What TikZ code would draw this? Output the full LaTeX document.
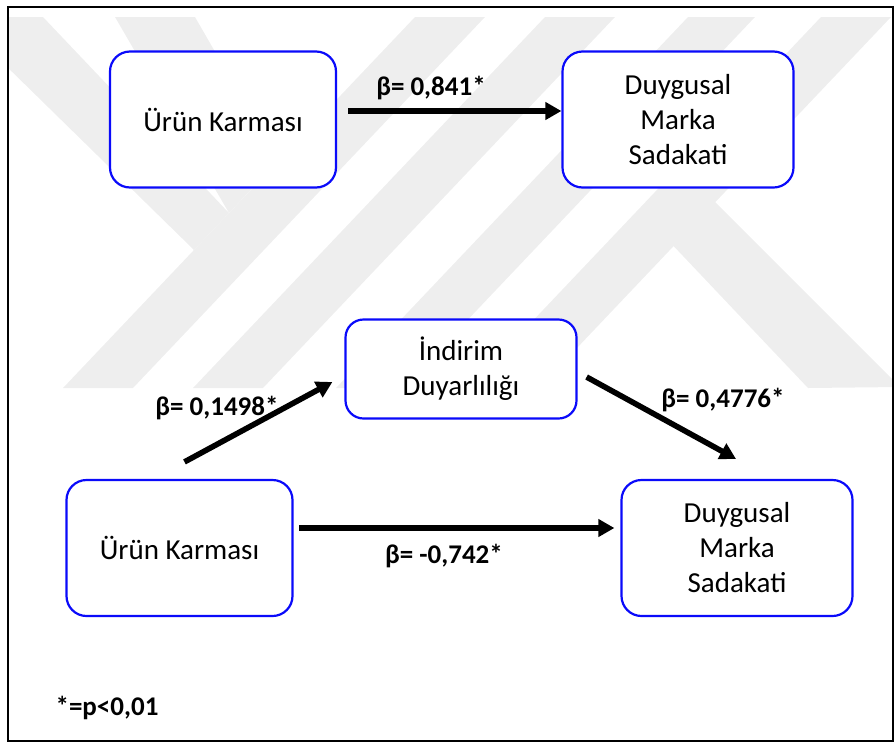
\documentclass[tikz,border=0pt]{standalone}
\usepackage{fontspec}
\setmainfont{Carlito}
\usetikzlibrary{arrows.meta}
\definecolor{boxblue}{RGB}{10,10,250}
\definecolor{wmgray}{RGB}{238,238,238}

\begin{document}
\begin{tikzpicture}[x=1pt,y=-1pt,
  mbox/.style={draw=boxblue, line width=2.2pt, rounded corners=20pt, fill=white,
    inner sep=0pt, align=center, font=\fontsize{29}{35}\selectfont},
  bigbox/.style={mbox, minimum width=226pt, minimum height=136pt},
  midbox/.style={mbox, minimum width=231pt, minimum height=99pt, rounded corners=18pt},
  arr/.style={line width=5.6pt, -{Triangle[length=16pt,width=17pt]}},
  coef/.style={font=\bfseries\fontsize{27}{32}\selectfont, anchor=base, inner sep=0pt}]

\path[use as bounding box] (0,0) rectangle (896,745);

% faint background emblem made of diagonal bands
\begin{scope}
  \clip (9,17) rectangle (892,388);
  \fill[wmgray] (415,17) -- (485,17) -- (133,388) -- (63,388) -- cycle;
  \fill[wmgray] (545,17) -- (615,17) -- (263,388) -- (193,388) -- cycle;
  \fill[wmgray] (688,17) -- (755,17) -- (403,388) -- (336,388) -- cycle;
  \fill[wmgray] (821,17) -- (891,17) -- (539,388) -- (469,388) -- cycle;
  \fill[wmgray] (0,17) -- (43,17) -- (229,213) -- (194,250) -- (0,60) -- cycle;
  \fill[wmgray] (115,17) -- (195,17) -- (278,161) -- (229,213) -- cycle;
  \fill[wmgray] (708,195) -- (900,387) -- (808,388) -- (665,237) -- cycle;
\end{scope}

% outer frame
\draw[line width=1.8pt] (8,7) rectangle (893,741);

% upper model: direct effect
\node[bigbox] (uk1)  at (223,119.5) {Ürün Karması};
\node[bigbox, minimum width=231pt] (dms1) at (678,119.5) {Duygusal\\Marka\\Sadakati};

% lower model: mediation
\node[midbox] (ind)  at (461,369) {İndirim\\Duyarlılığı};
\node[bigbox] (uk2)  at (179.5,548) {Ürün Karması};
\node[bigbox, minimum width=231pt] (dms2) at (737,548) {Duygusal\\Marka\\Sadakati};

\draw[arr] ([xshift=11pt,yshift=8.5pt]uk1.east) -- ([yshift=8.5pt]dms1.west);
\draw[arr] ([xshift=5pt,yshift=17pt]uk2.north) -- ([xshift=-12pt,yshift=-13pt]ind.west);
\draw[arr] ([xshift=9pt,yshift=-8pt]ind.east) -- ([xshift=-1pt,yshift=20pt]dms2.north);
\draw[arr] ([xshift=5.5pt,yshift=20pt]uk2.east) -- ([xshift=-6pt,yshift=20pt]dms2.west);

% path coefficients
\node[coef] (c1) at (431,95)  {β= 0,841*};
\node[coef] (c2) at (217,415) {β= 0,1498*};
\node[coef] (c3) at (723,407) {β= 0,4776*};
\node[coef] (c4) at (444,563) {β= -0,742*};
\node[coef] (sig) at (107,715) {*=p<0,01};
\end{tikzpicture}
\end{document}
